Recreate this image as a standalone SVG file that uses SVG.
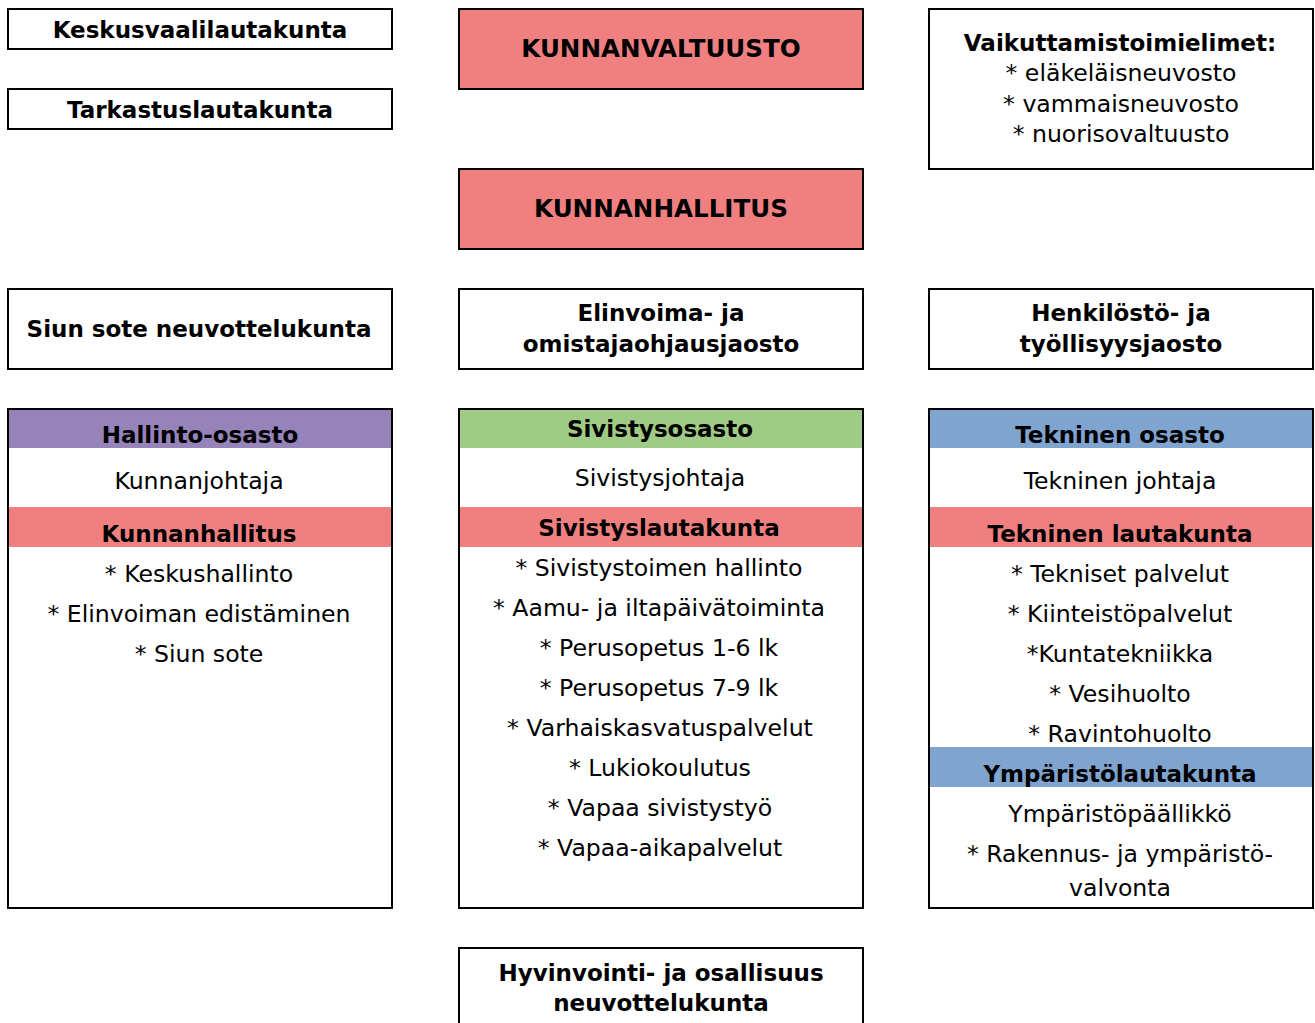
<svg xmlns="http://www.w3.org/2000/svg" width="1315" height="1023" viewBox="0 0 1315 1023">
<style>
  .box{fill:#fff;stroke:#000;stroke-width:2}
  .boxf{fill:none;stroke:#000;stroke-width:2}
  .red{fill:#F08080}
  .purple{fill:#9683BA}
  .green{fill:#A0CB84}
  .blue{fill:#7EA4CF}
  text{font-family:"DejaVu Sans","Verdana",sans-serif;font-size:23.6px;fill:#000;text-anchor:middle}
  .b{font-weight:bold;font-size:23px}
  .caps{font-size:24.6px}
</style>
<rect width="1315" height="1023" fill="#fff"/>
<g id="connectors"/>
<g id="keskusvaalilautakunta">
  <rect class="box" x="8" y="9" width="384" height="40"/>
  <text class="b" x="200" y="38">Keskusvaalilautakunta</text>
</g>
<g id="tarkastuslautakunta">
  <rect class="box" x="8" y="89" width="384" height="40"/>
  <text class="b" x="200" y="118">Tarkastuslautakunta</text>
</g>
<g id="kunnanvaltuusto">
  <rect class="box" x="459" y="9" width="404" height="80" style="fill:#F08080"/>
  <text class="b caps" x="661" y="57">KUNNANVALTUUSTO</text>
</g>
<g id="kunnanhallitus">
  <rect class="box" x="459" y="169" width="404" height="80" style="fill:#F08080"/>
  <text class="b caps" x="661" y="217">KUNNANHALLITUS</text>
</g>
<g id="vaikuttamistoimielimet">
  <rect class="box" x="929" y="9" width="384" height="160"/>
  <text class="b" x="1120" y="51">Vaikuttamistoimielimet:</text>
  <text x="1121" y="81">* eläkeläisneuvosto</text>
  <text x="1121" y="112">* vammaisneuvosto</text>
  <text x="1121" y="142">* nuorisovaltuusto</text>
</g>
<g id="siun-sote-neuvottelukunta">
  <rect class="box" x="8" y="289" width="384" height="80"/>
  <text class="b" x="199" y="337">Siun sote neuvottelukunta</text>
</g>
<g id="elinvoimajaosto">
  <rect class="box" x="459" y="289" width="404" height="80"/>
  <text class="b" x="661" y="321">Elinvoima- ja</text>
  <text class="b" x="661" y="352">omistajaohjausjaosto</text>
</g>
<g id="henkilostojaosto">
  <rect class="box" x="929" y="289" width="384" height="80"/>
  <text class="b" x="1121" y="321">Henkilöstö- ja</text>
  <text class="b" x="1121" y="352">työllisyysjaosto</text>
</g>
<g id="hallinto-osasto">
  <rect class="box" x="8" y="409" width="384" height="499"/>
  <rect class="purple" x="9" y="410" width="382" height="38"/>
  <rect class="red" x="9" y="507" width="382" height="40"/>
  <rect class="boxf" x="8" y="409" width="384" height="499"/>
  <text class="b" x="200" y="443">Hallinto-osasto</text>
  <text x="199" y="489">Kunnanjohtaja</text>
  <text class="b" x="199" y="542">Kunnanhallitus</text>
  <text x="199" y="582">* Keskushallinto</text>
  <text x="199" y="622">* Elinvoiman edistäminen</text>
  <text x="199" y="662">* Siun sote</text>
</g>
<g id="sivistysosasto">
  <rect class="box" x="459" y="409" width="404" height="499"/>
  <rect class="green" x="460" y="410" width="402" height="38"/>
  <rect class="red" x="460" y="507" width="402" height="40"/>
  <rect class="boxf" x="459" y="409" width="404" height="499"/>
  <text class="b" x="660" y="437">Sivistysosasto</text>
  <text x="660" y="486">Sivistysjohtaja</text>
  <text class="b" x="659" y="536">Sivistyslautakunta</text>
  <text x="659" y="576">* Sivistystoimen hallinto</text>
  <text x="659" y="616">* Aamu- ja iltapäivätoiminta</text>
  <text x="659" y="656">* Perusopetus 1-6 lk</text>
  <text x="659" y="696">* Perusopetus 7-9 lk</text>
  <text x="660" y="736">* Varhaiskasvatuspalvelut</text>
  <text x="660" y="776">* Lukiokoulutus</text>
  <text x="660" y="816">* Vapaa sivistystyö</text>
  <text x="660" y="856">* Vapaa-aikapalvelut</text>
</g>
<g id="tekninen-osasto">
  <rect class="box" x="929" y="409" width="384" height="499"/>
  <rect class="blue" x="930" y="410" width="382" height="38"/>
  <rect class="red" x="930" y="507" width="382" height="40"/>
  <rect class="blue" x="930" y="747" width="382" height="40"/>
  <rect class="boxf" x="929" y="409" width="384" height="499"/>
  <text class="b" x="1120" y="443">Tekninen osasto</text>
  <text x="1120" y="489">Tekninen johtaja</text>
  <text class="b" x="1120" y="542">Tekninen lautakunta</text>
  <text x="1120" y="582">* Tekniset palvelut</text>
  <text x="1120" y="622">* Kiinteistöpalvelut</text>
  <text x="1120" y="662">*Kuntatekniikka</text>
  <text x="1120" y="702">* Vesihuolto</text>
  <text x="1120" y="742">* Ravintohuolto</text>
  <text class="b" x="1120" y="782">Ympäristölautakunta</text>
  <text x="1120" y="822">Ympäristöpäällikkö</text>
  <text x="1120" y="862">* Rakennus- ja ympäristö-</text>
  <text x="1120" y="896">valvonta</text>
</g>
<g id="hyvinvointi-neuvottelukunta">
  <rect class="box" x="459" y="948" width="404" height="90"/>
  <text class="b" x="661" y="981">Hyvinvointi- ja osallisuus</text>
  <text class="b" x="661" y="1011">neuvottelukunta</text>
</g>
</svg>
